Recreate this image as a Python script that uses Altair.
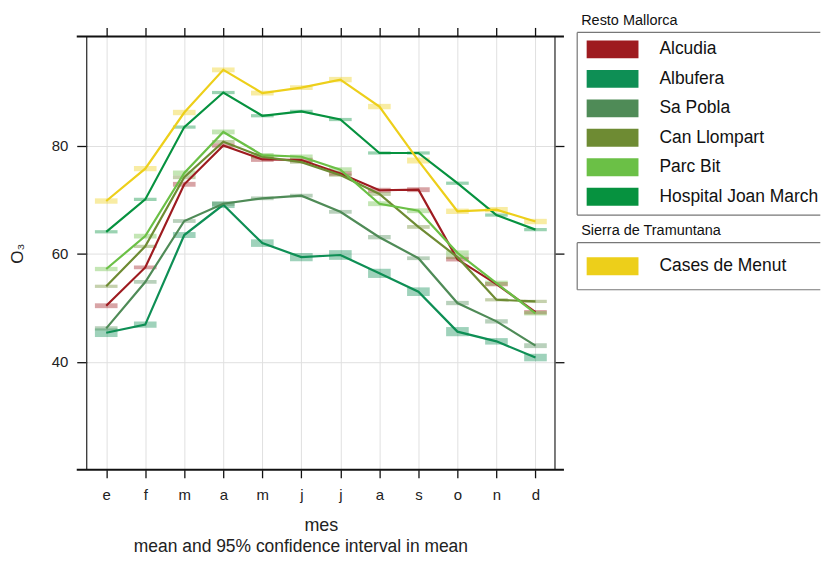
import json
import altair as alt
import pandas as pd

# ---------------- data ----------------
month_labels = ["e", "f", "m", "a", "m", "j", "j", "a", "s", "o", "n", "d"]
month_num = [1, 2, 3, 4, 5, 6, 7, 8, 9, 10, 11, 12]

stations = ["Alcudia", "Albufera", "Sa Pobla", "Can Llompart", "Parc Bit",
            "Hospital Joan March", "Cases de Menut"]
group_resto = ["Alcudia", "Albufera", "Sa Pobla", "Can Llompart", "Parc Bit",
               "Hospital Joan March"]
group_sierra = ["Cases de Menut"]
colors = ["#9E1B20", "#0E8F55", "#4F8B57", "#6E8B33", "#6BC046", "#06923F", "#EDCF1A"]

alcudia_mean = [50.4, 57.5, 72.9, 80.1, 77.5, 77.4, 74.9, 71.8, 71.9, 59.0, 54.4, 49.2]
albufera_mean = [45.4, 46.9, 63.5, 69.1, 62.0, 59.4, 59.8, 56.4, 53.0, 45.6, 43.8, 40.8]
sapobla_mean = [46.2, 54.8, 66.1, 69.3, 70.3, 70.8, 67.8, 63.1, 59.2, 50.9, 47.5, 43.0]
canllompart_mean = [54.0, 61.4, 74.2, 80.8, 78.0, 77.0, 74.6, 71.1, 65.0, 59.4, 51.5, 51.2]
parcbit_mean = [57.2, 63.3, 75.0, 82.6, 78.3, 78.0, 75.6, 69.3, 68.0, 60.2, 54.6, 49.0]
hospital_mean = [64.1, 70.1, 83.5, 89.9, 85.6, 86.4, 84.9, 78.7, 78.7, 73.1, 67.2, 64.5]
menut_mean = [69.8, 75.8, 86.2, 94.1, 89.8, 90.8, 92.3, 87.3, 77.3, 67.9, 68.2, 66.0]

# half-width of the 95% confidence interval in the mean
alcudia_ci = [0.45, 0.35, 0.45, 0.4, 0.45, 0.4, 0.4, 0.45, 0.45, 0.4, 0.4, 0.4]
albufera_ci = [0.8, 0.6, 0.55, 0.6, 0.7, 0.75, 0.9, 0.85, 0.8, 0.85, 0.6, 0.7]
sapobla_ci = [0.4, 0.35, 0.35, 0.4, 0.35, 0.35, 0.35, 0.4, 0.35, 0.4, 0.4, 0.45]
canllompart_ci = [0.3, 0.3, 0.35, 0.3, 0.3, 0.3, 0.3, 0.35, 0.35, 0.35, 0.3, 0.3]
parcbit_ci = [0.4, 0.45, 0.45, 0.45, 0.4, 0.4, 0.45, 0.45, 0.45, 0.45, 0.45, 0.4]
hospital_ci = [0.3, 0.3, 0.3, 0.3, 0.3, 0.3, 0.3, 0.3, 0.3, 0.3, 0.3, 0.3]
menut_ci = [0.5, 0.5, 0.5, 0.45, 0.45, 0.45, 0.5, 0.5, 0.55, 0.5, 0.5, 0.5]

all_means = [alcudia_mean, albufera_mean, sapobla_mean, canllompart_mean,
             parcbit_mean, hospital_mean, menut_mean]
all_ci = [alcudia_ci, albufera_ci, sapobla_ci, canllompart_ci,
          parcbit_ci, hospital_ci, menut_ci]

rows = []
for st, mv, cv in zip(stations, all_means, all_ci):
    for m, v, c in zip(month_num, mv, cv):
        rows.append({"station": st, "month": m, "mean": v, "ci": c})
df = pd.DataFrame(rows)

# ---------------- main panel ----------------
W, H = 470, 435
FONT = "Liberation Sans"
xscale = alt.Scale(domain=[0.5, 12.5], nice=False, zero=False)
yscale = alt.Scale(domain=[20, 100.3], nice=False, zero=False)
label_expr = json.dumps(month_labels) + "[datum.value - 1]"

ax_bottom = alt.Axis(orient="bottom", values=month_num, labelExpr=label_expr, title="mes",
                     grid=True, gridColor="#e0e0e0", gridWidth=1, domain=False,
                     tickSize=8, tickWidth=1.3, tickColor="#111", labelFontSize=15,
                     labelColor="#222", labelPadding=10, titleFontSize=18,
                     titleFontWeight="normal", titlePadding=14, titleColor="#222")
ax_left = alt.Axis(orient="left", values=[40, 60, 80], title="O₃", grid=True,
                   gridColor="#e0e0e0", gridWidth=1, domain=False, tickSize=10,
                   tickWidth=1.3, tickColor="#111", labelFontSize=15, labelColor="#222",
                   labelPadding=9, titleFontSize=17, titleFontWeight="normal",
                   titlePadding=25, titleColor="#222")
ax_top = alt.Axis(orient="top", values=month_num, labels=False, title=None, grid=False,
                  domain=False, tickSize=9, tickWidth=1.3, tickColor="#111")
ax_right = alt.Axis(orient="right", values=[40, 60, 80], labels=False, title=None, grid=False,
                    domain=False, tickSize=9, tickWidth=1.3, tickColor="#111")

rect_layers = []
line_layers = []
for i, (st, col) in enumerate(zip(stations, colors)):
    base = alt.Chart(df).transform_filter(alt.datum.station == st)
    r = base.transform_calculate(
        lo="datum.mean - datum.ci", hi="datum.mean + datum.ci",
        x0="datum.month - 0.29", x1="datum.month + 0.29"
    ).mark_rect(color=col, opacity=0.4).encode(
        x=alt.X("x0:Q", scale=xscale, axis=ax_bottom if i == 0 else None),
        x2="x1:Q",
        y=alt.Y("lo:Q", scale=yscale, axis=ax_left if i == 0 else None),
        y2="hi:Q",
    )
    rect_layers.append(r)
    ln = base.mark_line(color=col, strokeWidth=2.2).encode(
        x=alt.X("month:Q", scale=xscale, axis=ax_top if i == 0 else None),
        y=alt.Y("mean:Q", scale=yscale, axis=ax_right if i == 0 else None),
    )
    line_layers.append(ln)

one = alt.Data(values=[{"k": 1}])


def rule(color, width, **enc):
    return alt.Chart(one).mark_rule(color=color, strokeWidth=width).encode(
        **{k: alt.value(v) for k, v in enc.items()})


frame = [
    rule("#333", 1.3, x=0, y=0, y2=H),
    rule("#333", 1.3, x=W, y=0, y2=H),
    rule("#111", 2, x=-10, x2=W + 9, y=0),
    rule("#111", 2, x=-10, x2=W + 9, y=H),
]

subtitle = alt.Chart(one).mark_text(fontSize=17.5, color="#222", baseline="middle",
                                    align="center").encode(
    x=alt.value(215), y=alt.value(512),
    text=alt.value("mean and 95% confidence interval in mean"))

# ---------------- legend (drawn beside the panel) ----------------
LX = 492.3          # left edge of legend boxes
LX2 = 736.3         # right end of legend box lines
swatch_path = "M-1,-0.346L1,-0.346L1,0.346L-1,0.346Z"
leg_color = "#777"


def legend_group(names, title, top, bottom, rng, pad):
    cols = [colors[stations.index(n)] for n in names]
    d = pd.DataFrame({"station": names, "color": cols})
    yenc = alt.Y("station:N", sort=names, axis=None,
                 scale=alt.Scale(type="point", padding=pad, range=rng))
    sw = alt.Chart(d).mark_point(shape=swatch_path, size=2704, filled=True, opacity=1,
                                 strokeWidth=0).encode(
        x=alt.value(LX + 35.5), y=yenc, color=alt.Color("color:N", scale=None))
    tx = alt.Chart(d).mark_text(align="left", baseline="middle", fontSize=17.5,
                                color="#111").encode(
        x=alt.value(LX + 82.5), y=yenc, text="station:N")
    ttl = alt.Chart(one).mark_text(align="left", baseline="middle", fontSize=14.5,
                                   color="#111").encode(
        x=alt.value(LX + 4), y=alt.value(top - 11.8), text=alt.value(title))
    box = [
        rule(leg_color, 1.2, x=LX, x2=LX2, y=top),
        rule(leg_color, 1.2, x=LX, x2=LX2, y=bottom),
        rule(leg_color, 1.2, x=LX, y=top, y2=bottom),
    ]
    return [sw, tx, ttl] + box


legend_layers = (legend_group(group_resto, "Resto Mallorca", -4, 179.3, [13, 161], 0)
                 + legend_group(group_sierra, "Sierra de Tramuntana", 207, 254.3,
                                [207, 254.3], 0.5))

chart = alt.layer(
    *rect_layers, *line_layers, *frame, subtitle, *legend_layers
).resolve_scale(y="independent").resolve_axis(x="independent", y="independent").properties(
    width=W, height=H,
    padding={"left": 0, "top": 3.5, "right": 0, "bottom": 0},
).configure(font=FONT).configure_view(stroke="transparent")

chart.save("out.html", embed_options={"renderer": "svg", "actions": False})
